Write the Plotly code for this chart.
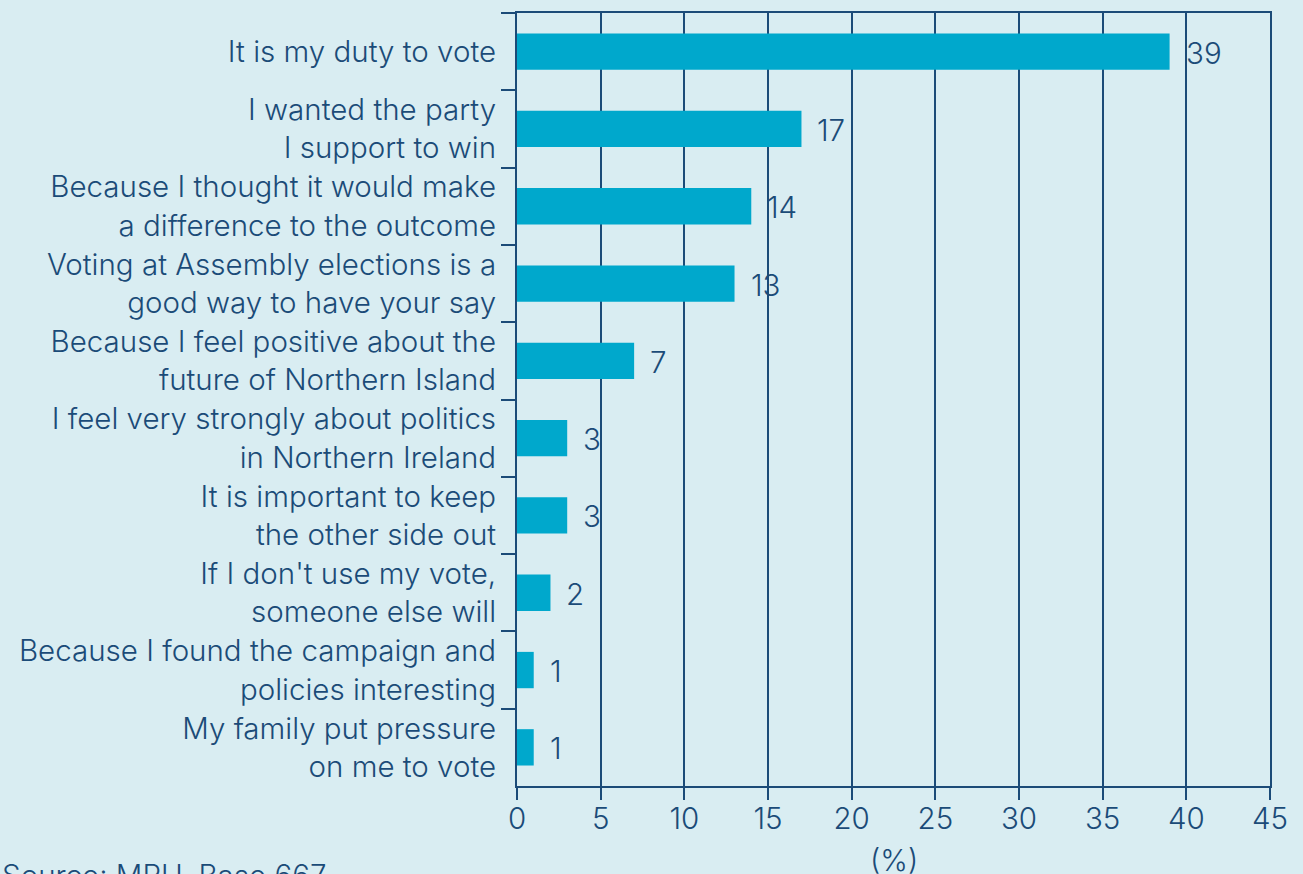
import plotly.graph_objects as go

categories = [
    "It is my duty to vote",
    "I wanted the party<br>I support to win",
    "Because I thought it would make<br>a difference to the outcome",
    "Voting at Assembly elections is a<br>good way to have your say",
    "Because I feel positive about the<br>future of Northern Island",
    "I feel very strongly about politics<br>in Northern Ireland",
    "It is important to keep<br>the other side out",
    "If I don't use my vote,<br>someone else will",
    "Because I found the campaign and<br>policies interesting",
    "My family put pressure<br>on me to vote",
]
values = [39, 17, 14, 13, 7, 3, 3, 2, 1, 1]
x_ticks = [0, 5, 10, 15, 20, 25, 30, 35, 40, 45]

BG = "#d9edf2"
BAR = "#00a8cc"
TXT = "#1b4b78"
FONT = "Inter"
FS = 29.5

fig = go.Figure()
fig.add_trace(go.Bar(
    x=values, y=categories, orientation="h",
    marker=dict(color=BAR, line=dict(width=0)),
    width=0.47, hoverinfo="skip",
))

for v, c in zip(values, categories):
    fig.add_annotation(x=v, y=c, xref="x", yref="y", text=str(v),
                       showarrow=False, xanchor="left", xshift=14, yshift=-1,
                       font=dict(family=FONT, size=FS, color=TXT, weight=300))

fig.add_annotation(x=0.5, y=-(840 - 786) / 773, xref="paper", yref="paper",
                   text="(%)", showarrow=False, xanchor="center", yanchor="top",
                   font=dict(family=FONT, size=FS, color=TXT, weight=300))
fig.add_annotation(x=-517 / 753, y=-(855 - 786) / 773, xref="paper", yref="paper",
                   text="Source: MRU, Base 667", showarrow=False, xanchor="left", yanchor="top",
                   font=dict(family=FONT, size=FS, color=TXT, weight=300))

fig.update_layout(
    width=1303, height=874,
    margin=dict(l=517, r=33, t=13, b=88),
    paper_bgcolor=BG, plot_bgcolor=BG,
    showlegend=False,
    font=dict(family=FONT, size=FS, color=TXT, weight=300),
    xaxis=dict(
        range=[0, 45], tickvals=x_ticks, ticktext=[str(t) for t in x_ticks],
        showgrid=True, gridcolor=TXT, gridwidth=1.5,
        showline=True, linecolor=TXT, linewidth=2, mirror=True,
        ticks="outside", ticklen=12, tickwidth=1.5, tickcolor=TXT,
        zeroline=False, ticklabelstandoff=-6,
        tickfont=dict(family=FONT, size=FS, color=TXT, weight=300),
    ),
    yaxis=dict(
        autorange="reversed", type="category",
        showline=True, linecolor=TXT, linewidth=2, mirror=True,
        ticks="outside", tickson="boundaries", ticklen=14, tickwidth=1.5, tickcolor=TXT,
        showgrid=False, ticklabelstandoff=13,
        tickfont=dict(family=FONT, size=FS, color=TXT, weight=300),
    ),
)

fig.write_html("out.html")
